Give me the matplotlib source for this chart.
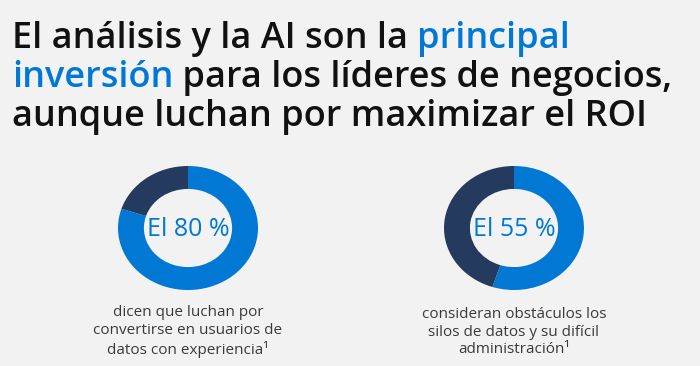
import matplotlib
matplotlib.use("Agg")
import matplotlib.pyplot as plt

BG = "#f2f2f2"
BLUE = "#0078d4"
DARK = "#243a5e"
TEXT = "#111111"
CAPTION = "#3a3a3a"

title_lines = [
    [("El análisis y la AI son la ", TEXT), ("principal", BLUE)],
    [("inversión", BLUE), (" para los líderes de negocios,", TEXT)],
    [("aunque luchan por maximizar el ROI", TEXT)],
]
shares = [80, 55]
labels = ["El 80 %", "El 55 %"]
captions = [
    "dicen que luchan por\nconvertirse en usuarios de\ndatos con experiencia¹",
    "consideran obstáculos los\nsilos de datos y su difícil\nadministración¹",
]
centers_x = [188, 514]

W, H = 700, 366
plt.rcParams['font.family'] = ['Open Sans', 'DejaVu Sans']
fig = plt.figure(figsize=(W / 100, H / 100), dpi=100)
fig.patch.set_facecolor(BG)

canvas = fig.add_axes([0, 0, 1, 1])
canvas.set_xlim(0, W)
canvas.set_ylim(H, 0)
canvas.axis("off")

# title, drawn piece by piece so the colours can change mid-line
fig.canvas.draw()
renderer = fig.canvas.get_renderer()
baselines = [48, 87, 126]
for line, y in zip(title_lines, baselines):
    x = 12
    for txt, col in line:
        t = canvas.text(x, y, txt, color=col, fontsize=26, va="baseline", ha="left",
                        fontweight="semibold")
        bb = t.get_window_extent(renderer)
        x += bb.width

# donuts
for cx, share, lab, cap in zip(centers_x, shares, labels, captions):
    rx, ry, cy = 70, 62, 228
    ax = fig.add_axes([(cx - rx) / W, (H - cy - ry) / H, 2 * rx / W, 2 * ry / H])
    ax.pie([share, 100 - share], colors=[BLUE, DARK], startangle=90,
           counterclock=False, radius=1, wedgeprops=dict(width=0.37, linewidth=0))
    ax.set_aspect("auto")
    ax.set_xlim(-1, 1)
    ax.set_ylim(-1, 1)
    ax.axis("off")
    canvas.text(cx, cy + 2, lab, color=BLUE, fontsize=18, ha="center", va="center")
    canvas.text(cx, 332, cap, color=CAPTION, fontsize=11, ha="center", va="center",
                linespacing=1.25)

fig.savefig("out.png", dpi=100, facecolor=BG)
